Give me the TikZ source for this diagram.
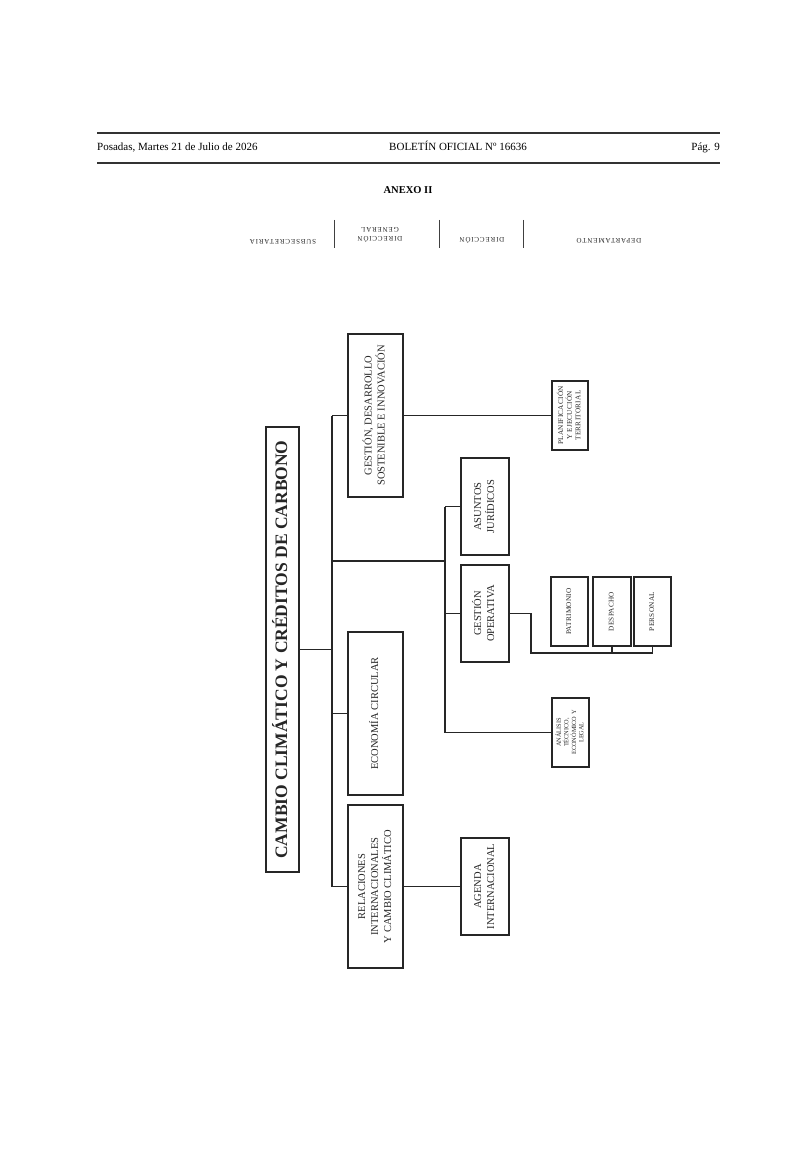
\documentclass[tikz,border=0pt]{standalone}
\usepackage{fontspec}
\setmainfont{Liberation Serif}
\usepackage{graphicx}
\newcommand{\vlabel}[1]{\rotatebox{90}{\begin{tabular}{@{}c@{}}#1\end{tabular}}}

\begin{document}
\begin{tikzpicture}[x=1pt, y=-1pt,
  office/.style={draw=black!85, line width=1.1pt, inner sep=0pt, text=black!85, font=\fontsize{10.5}{13}\selectfont},
  small office/.style={office, font=\fontsize{7.2}{8.6}\selectfont\addfontfeature{LetterSpace=4}},
  link/.style={draw=black!85, line width=1.3pt},
  colhead/.style={rotate=180, align=center, text=black!85, font=\fontsize{7}{9.5}\selectfont\addfontfeature{LetterSpace=12}}]
\path[fill=white, use as bounding box] (0,0) rectangle (800,1155);

% header
\draw[black!80, line width=1.8pt] (97,133) -- (720,133);
\draw[black!80, line width=1.8pt] (97,163) -- (720,163);
\node[anchor=base west, inner sep=0pt, font=\fontsize{11}{13}\selectfont] (Fecha) at (97,151) {Posadas, Martes 21 de Julio de 2026};
\node[anchor=base, inner sep=0pt, font=\fontsize{11}{13}\selectfont] (Boletin) at (458,151) {BOLETÍN OFICIAL Nº 16636};
\node[anchor=base east, inner sep=0pt, font=\fontsize{11}{13}\selectfont] (Pagina) at (720,151) {Pág. 9};
\node[anchor=base, inner sep=0pt, font=\bfseries\fontsize{10.5}{12}\selectfont] (Anexo) at (408,194) {ANEXO II};

% column heads
\node[colhead] (Col Subsecretaria) at (283,242) {SUBSECRETARIA};
\node[colhead] (Col Direccion General) at (380,235) {DIRECCIÓN\\GENERAL};
\node[colhead] (Col Direccion) at (482,240) {DIRECCIÓN};
\node[colhead] (Col Departamento) at (609,241) {DEPARTAMENTO};
\draw[black!75, line width=1pt] (334,220) -- (334,248);
\draw[black!75, line width=1pt] (439,220) -- (439,248);
\draw[black!75, line width=1pt] (523,220) -- (523,248);

% boxes
\node[office, line width=2.6pt, minimum width=33pt, minimum height=445pt, font=\bfseries\fontsize{17.5}{20}\selectfont] (Cambio) at (282.5,649.5) {\vlabel{CAMBIO CLIMÁTICO Y CRÉDITOS DE CARBONO}};

\node[office, minimum width=55pt, minimum height=163pt] (Gestion Desarrollo) at (375.5,415.5) {\vlabel{GESTIÓN, DESARROLLO\\SOSTENIBLE E INNOVACIÓN}};
\node[office, minimum width=55pt, minimum height=163pt] (Economia) at (375.5,713.5) {\vlabel{ECONOMÍA CIRCULAR}};
\node[office, minimum width=55pt, minimum height=163pt] (Relaciones) at (375.5,886.5) {\vlabel{RELACIONES\\INTERNACIONALES\\Y CAMBIO CLIMÁTICO}};

\node[office, minimum width=48pt, minimum height=97pt] (Asuntos) at (485,506.5) {\vlabel{ASUNTOS\\JURÍDICOS}};
\node[office, minimum width=48pt, minimum height=97pt] (Gestion Operativa) at (485,613.5) {\vlabel{GESTIÓN\\OPERATIVA}};
\node[office, minimum width=48pt, minimum height=97pt] (Agenda) at (485,886.5) {\vlabel{AGENDA\\INTERNACIONAL}};

\node[small office, minimum width=36pt, minimum height=69pt] (Planificacion) at (570,415.5) {\vlabel{PLANIFICACIÓN\\Y EJECUCIÓN\\TERRITORIAL}};
\node[small office, minimum width=37pt, minimum height=69pt, font=\fontsize{6.3}{7.4}\selectfont] (Analisis) at (570.5,732.5) {\vlabel{ANÁLISIS\\TÉCNICO,\\ECONÓMICO Y\\LEGAL}};
\node[small office, minimum width=37pt, minimum height=69pt] (Patrimonio) at (569.5,611.5) {\vlabel{PATRIMONIO}};
\node[small office, minimum width=38pt, minimum height=69pt] (Despacho) at (612,611.5) {\vlabel{DESPACHO}};
\node[small office, minimum width=37pt, minimum height=69pt] (Personal) at (652.5,611.5) {\vlabel{PERSONAL}};

% joints
\coordinate (Bus Mid) at (332,649.5);
\coordinate (Bus Top) at (332,415.5);
\coordinate (Bus Branch) at (332,561);
\coordinate (Bus Eco) at (332,713.5);
\coordinate (Bus Bottom) at (332,886.5);
\coordinate (Sub Joint) at (445,561);
\coordinate (Sub Top) at (445,506.5);
\coordinate (Sub Op) at (445,613.5);
\coordinate (Sub Bottom) at (445,732.5);
\coordinate (Op Corner) at (531,653);
\coordinate (Op Tick) at (612,653);
\coordinate (Op End) at (652.5,653);

\draw[link] (Cambio) -- (Bus Mid);
\draw[link] (Bus Top) -- (Bus Bottom);
\draw[link] (Bus Top) -- (Gestion Desarrollo);
\draw[link] (Bus Eco) -- (Economia);
\draw[link] (Bus Bottom) -- (Relaciones);
\draw[link] (Bus Branch) -- (Sub Joint);
\draw[link] (Sub Top) -- (Sub Bottom);
\draw[link] (Sub Top) -- (Asuntos);
\draw[link] (Sub Op) -- (Gestion Operativa);
\draw[link] (Sub Bottom) -- (Analisis);
\draw[link] (Gestion Desarrollo) -- (Planificacion);
\draw[link] (Relaciones) -- (Agenda);
\draw[link] (Gestion Operativa) -| (Op Corner) -- (Op End) -- (Personal);
\draw[link] (Op Tick) -- (Despacho);
\end{tikzpicture}
\end{document}
